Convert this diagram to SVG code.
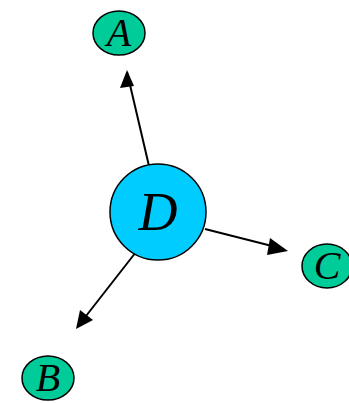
<svg xmlns="http://www.w3.org/2000/svg" width="349" height="403" viewBox="0 0 349 403">
<style>
.leaf{fill:#00CC99;stroke:#000;stroke-width:1.5}
.hub{fill:#00CCFF;stroke:#000;stroke-width:1.5}
.lbl{font-family:"Liberation Serif",serif;font-style:italic;fill:#000;text-anchor:middle}
.edge{stroke:#000;stroke-width:2;fill:none}
.head{fill:#000}
</style>
<g id="edges">
<line class="edge" x1="149" y1="166" x2="127" y2="72"/>
<path class="head" d="M127,70 L120,88 L134,86 z"/>
<line class="edge" x1="205" y1="229" x2="272" y2="246"/>
<path class="head" d="M288,251 L270,238 L267,255 z"/>
<line class="edge" x1="136" y1="252" x2="86" y2="316"/>
<path class="head" d="M76,329 L80,310 L93,320 z"/>
</g>
<g id="A"><ellipse class="leaf" cx="119" cy="33" rx="26" ry="22"/><text class="lbl" x="119" y="46" font-size="40">A</text></g>
<g id="D"><circle class="hub" cx="158" cy="212" r="48"/><text class="lbl" x="158" y="230" font-size="54">D</text></g>
<g id="C"><ellipse class="leaf" cx="327" cy="266" rx="25" ry="22"/><text class="lbl" x="327" y="279" font-size="40">C</text></g>
<g id="B"><ellipse class="leaf" cx="48" cy="378" rx="26" ry="22"/><text class="lbl" x="48" y="391" font-size="40">B</text></g>
</svg>
